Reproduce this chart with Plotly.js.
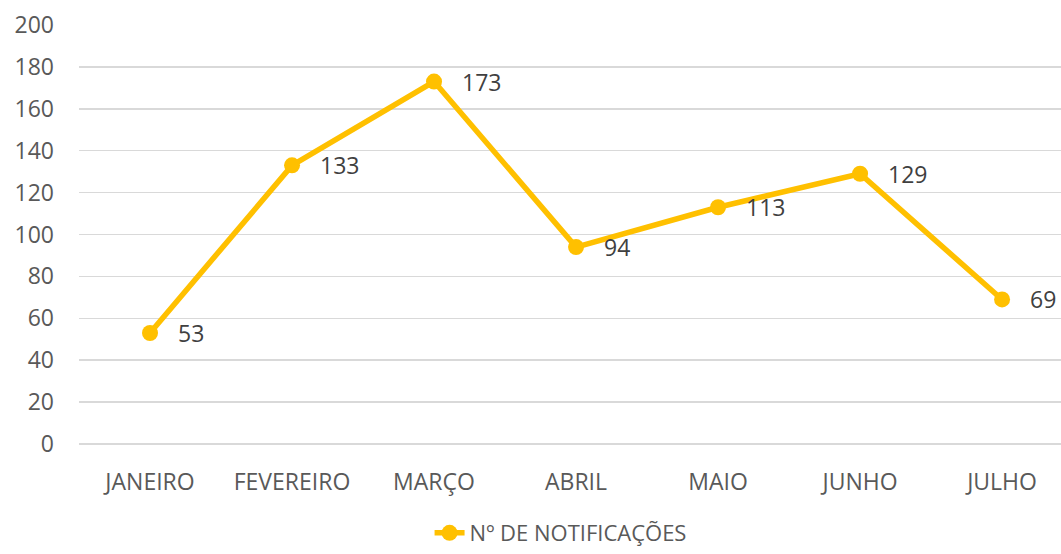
<!DOCTYPE html>
<html>
<head>
<meta charset="utf-8">
<script src="https://cdn.plot.ly/plotly-3.0.1.min.js"></script>
<style>html,body{margin:0;padding:0;background:#fff;}#chart{width:1061px;height:554px;}</style>
</head>
<body>
<div id="chart"></div>
<script>
const months = ["JANEIRO", "FEVEREIRO", "MARÇO", "ABRIL", "MAIO", "JUNHO", "JULHO"];
const notificacoes = [53, 133, 173, 94, 113, 129, 69];
const seriesName = "Nº DE NOTIFICAÇÕES";
const yTicks = [0, 20, 40, 60, 80, 100, 120, 140, 160, 180, 200];

const font = "'Open Sans', 'Liberation Sans', sans-serif";
const trace = {
  x: months,
  y: notificacoes,
  name: seriesName,
  type: "scatter",
  mode: "lines+markers",
  line: {color: "#FFC000", width: 5.5},
  marker: {color: "#FFC000", size: 16},
  cliponaxis: false
};
const labels = months.map((m, i) => ({
  x: m, y: notificacoes[i], xref: "x", yref: "y",
  text: String(notificacoes[i]), showarrow: false,
  xanchor: "left", yanchor: "middle", xshift: 26, yshift: 0,
  font: {family: font, size: 23, color: "#404040"}
}));
const layout = {
  width: 1061, height: 554,
  margin: {l: 79, r: 0, t: 25, b: 110, autoexpand: false},
  paper_bgcolor: "#fff", plot_bgcolor: "#fff",
  font: {family: font, size: 23, color: "#595959"},
  showlegend: true,
  annotations: labels,
  legend: {orientation: "h", x: 0.357, xanchor: "left",
           yref: "container", y: 0, yanchor: "bottom",
           font: {family: font, size: 22, color: "#595959"}},
  xaxis: {
    type: "category",
    range: [-0.5, 6.415],
    showgrid: false, zeroline: false, showline: false,
    ticks: "", ticklabelstandoff: 22,
    tickfont: {family: font, size: 23, color: "#595959"}
  },
  yaxis: {
    range: [0, 200],
    tickvals: yTicks,
    ticktext: yTicks.map(String),
    showgrid: true, gridcolor: "#D9D9D9", gridwidth: 1.5,
    zeroline: true, zerolinecolor: "#D9D9D9", zerolinewidth: 1.5,
    showline: false, ticks: "", ticklabelstandoff: 24,
    tickfont: {family: font, size: 23, color: "#595959"}
  }
};
Plotly.newPlot("chart", [trace], layout, {displayModeBar: false, staticPlot: true});
</script>
</body>
</html>
